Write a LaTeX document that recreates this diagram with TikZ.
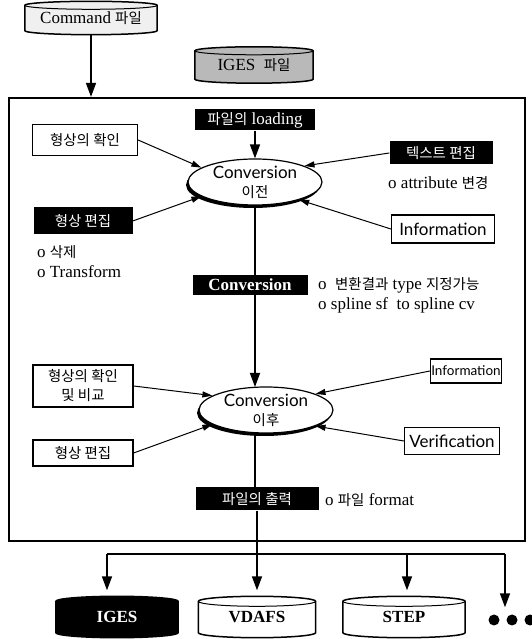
\documentclass[tikz,border=0pt]{standalone}
\usepackage{fontspec}
\setmainfont{Liberation Serif}
\newfontfamily\kr[Scale=0.85]{Noto Sans CJK KR}
\newfontfamily\optima{Lato}
\usetikzlibrary{shapes.geometric,arrows.meta,calc,backgrounds,shadows}

% drum outline drawn behind a named rectangular node: node, fill, rim half-height
\newcommand\drumshape[3]{%
  \path[draw, line width=1.5pt, fill=#2]
    let \p1=(#1.north west), \p2=(#1.south east), \n1={(\x2-\x1)/2} in
    (\x1,\y1-#3) -- (\x1,\y2+#3)
    arc[start angle=180, end angle=360, x radius=\n1, y radius=#3]
    -- (\x2,\y1-#3)
    arc[start angle=0, end angle=180, x radius=\n1, y radius=#3] -- cycle;
  \draw[line width=1pt]
    let \p1=(#1.north west), \p2=(#1.south east), \n1={(\x2-\x1)/2} in
    (\x1,\y1-#3) arc[start angle=180, end angle=360, x radius=\n1, y radius=#3];
}

\begin{document}
\begin{tikzpicture}[x=1pt, y=1pt,
  every node/.style={font=\fontsize{17}{20}\selectfont},
  framebox/.style={draw, line width=2.2pt, minimum width=516pt, minimum height=443pt, inner sep=0pt},
  drumtext/.style={inner sep=0pt},
  plainbox/.style={draw, line width=1.2pt, fill=white, inner sep=0pt, align=center},
  darkbox/.style={fill=black, text=white, inner sep=0pt},
  ell/.style={ellipse, draw, line width=1.2pt, fill=white, minimum width=134pt,
    minimum height=46pt, inner sep=0pt,
    drop shadow={shadow xshift=-2pt, shadow yshift=-3pt, fill=black, opacity=1}},
  elltext/.style={align=center, font=\optima\fontsize{17}{19}\selectfont},
  sansbox/.style={plainbox, font=\optima\fontsize{17}{20}\selectfont},
  note/.style={anchor=west, align=left, inner sep=0pt},
  flow/.style={line width=1.5pt, -{Triangle[length=14pt, width=10pt]}},
  feed/.style={line width=1pt, -{Triangle[length=10pt, width=6pt]}},
  dot/.style={circle, fill=black, minimum size=11pt, inner sep=0pt}
]
\useasboundingbox (0,0) rectangle (531,639);

% outer frame
\node[framebox] (frame) at (267,319.5) {};

% input files
\node[drumtext, minimum width=132pt, minimum height=33pt] (cmd) at (91,621) {Command {\kr 파일}};
\node[drumtext, minimum width=118pt, minimum height=36pt] (igesin) at (254,574) {IGES\ \ {\kr 파일}};

% output files
\node[drumtext, text=white, minimum width=122pt, minimum height=41pt] (igesout) at (117,22) {\textbf{IGES}};
\node[drumtext, minimum width=117pt, minimum height=41pt] (vdafs) at (257,22) {\textbf{VDAFS}};
\node[drumtext, minimum width=122pt, minimum height=41pt] (step) at (404,22) {\textbf{STEP}};

\begin{scope}[on background layer]
  \drumshape{cmd}{gray!12}{4pt}
  \drumshape{igesin}{gray!55}{4pt}
  \drumshape{igesout}{black}{5pt}
  \drumshape{vdafs}{white}{5pt}
  \drumshape{step}{white}{5pt}
\end{scope}

% loading
\node[darkbox, minimum width=120pt, minimum height=21pt] (loading) at (255,519) {{\kr 파일의} loading};

% conversion before
\node[ell, label={[elltext]center:{Conversion\\{\kr 이전}}}] (e1) at (255,457) {};
\node[plainbox, minimum width=105pt, minimum height=31pt] (chk1) at (85,499) {\kr 형상의 확인};
\node[darkbox, minimum width=99pt, minimum height=27pt] (edit1) at (83,418) {\kr 형상 편집};
\node[note, anchor=north west] (n1) at (37,394) {o {\kr 삭제}\\o Transform};
\node[darkbox, minimum width=103pt, minimum height=23pt] (tedit) at (441,486) {\kr 텍스트 편집};
\node[note] (n2) at (388,456) {o attribute {\kr 변경}};
\node[sansbox, minimum width=103pt, minimum height=28pt] (info1) at (443,410) {Information};

% conversion step
\draw[flow] (e1.south) -- (e1.south |- 0,252);
\node[darkbox, minimum width=115pt, minimum height=20pt] (conv) at (250,354) {\textbf{Conversion}};
\node[note] (n3) at (318,344) {o\ \ {\kr 변환결과} type {\kr 지정가능}\\o spline sf\ \ to spline cv};

% conversion after
\node[ell, label={[elltext]center:{Conversion\\{\kr 이후}}}] (e2) at (266,229) {};
\node[plainbox, minimum width=100pt, minimum height=42pt, font=\kr\fontsize{17}{19}\selectfont] (chk2) at (83,253) {형상의 확인\\및 비교};
\node[plainbox, minimum width=100pt, minimum height=26pt] (edit2) at (83,186) {\kr 형상 편집};
\node[plainbox, minimum width=71pt, minimum height=24pt, font=\optima\fontsize{13.5}{16}\selectfont] (info2) at (466,268) {Information};
\node[sansbox, minimum width=95pt, minimum height=27pt] (verif) at (452,198) {Verification};

% output
\node[darkbox, minimum width=123pt, minimum height=23pt] (out) at (257,140) {\kr 파일의 출력};
\node[note] (n4) at (325,139) {o {\kr 파일} format};

% main flow
\draw[flow] (cmd.south) -- (cmd.south |- frame.north);
\draw[line width=1.2pt] (igesin.south) -- (igesin.south -| loading.north);
\draw[flow] (loading.south) -- (e1.north);
\draw[line width=1.2pt] (e1.south |- e2.south) -- (e1.south |- out.north);

% feeds into the conversion steps
\draw[feed] (chk1.east) -- (e1.165);
\draw[feed] (edit1.east) -- (e1.195);
\draw[feed] (tedit.west) -- (e1.18);
\draw[feed] (info1.west) -- (e1.338);
\draw[feed] (chk2.east) -- (e2.165);
\draw[feed] (edit2.east) -- (e2.195);
\draw[feed] (info2.west) -- (e2.18);
\draw[feed] (verif.west) -- (e2.342);

% distribution to output formats
\coordinate (hub) at (257,85);
\coordinate (hubL) at (107,85);
\coordinate (hubS) at (407,85);
\coordinate (hubR) at (505,85);
\node[dot] (d1) at (494,19) {};
\node[dot] (d2) at (512,19) {};
\node[dot] (d3) at (530,19) {};
\draw[line width=1.5pt] (out.south) -- (hub);
\draw[line width=1.5pt] (hubL) -- (hubR);
\draw[flow, shorten >=6pt] (hub) -- (vdafs.north);
\draw[flow, shorten >=6pt] (hubL) -- (hubL |- igesout.north);
\draw[flow, shorten >=6pt] (hubS) -- (hubS |- step.north);
\draw[flow, shorten >=7pt] (hubR) -- (hubR |- d1.north);
\end{tikzpicture}
\end{document}
